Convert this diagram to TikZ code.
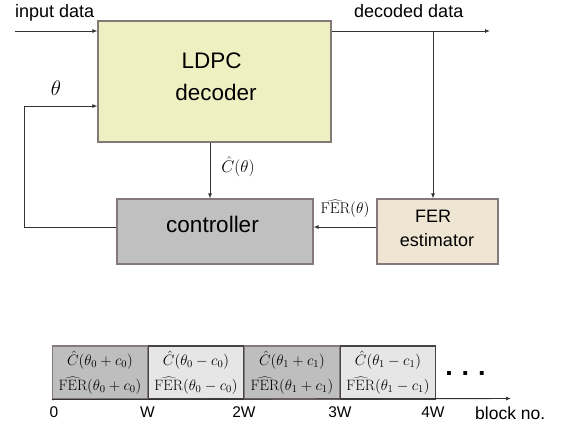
\RequirePackage{fix-cm}
\documentclass[tikz,border=0pt]{standalone}
\usepackage{fontspec}
\setsansfont{Liberation Sans}
\usetikzlibrary{arrows.meta}
\definecolor{ldpcfill}{HTML}{EEF0C2}
\definecolor{ctrlfill}{HTML}{C0C0C0}
\definecolor{ferfill}{HTML}{EFE5D3}
\definecolor{bordc}{HTML}{857878}
\definecolor{linec}{HTML}{333333}
\definecolor{darkfill}{HTML}{BEBEBE}
\definecolor{lightfill}{HTML}{E6E6E6}
\definecolor{darkbord}{HTML}{444444}
\begin{document}
\begin{tikzpicture}[x=1pt,y=-1pt,
  blk/.style={draw=bordc, line width=1.2pt, inner sep=0pt},
  conn/.style={draw=linec, line width=0.9pt},
  arr/.style={conn, -{Latex[length=5pt,width=4pt]}},
  big/.style={font=\sffamily\fontsize{22.5}{27}\selectfont, inner sep=0pt},
  mid/.style={font=\sffamily\fontsize{18}{21}\selectfont, inner sep=0pt},
  tick/.style={font=\sffamily\fontsize{15.5}{18}\selectfont, inner sep=0pt},
  mth/.style={font=\fontsize{15.5}{18}\selectfont, inner sep=0pt},
  slot/.style={draw, line width=1.1pt, inner sep=0pt, minimum width=95pt, minimum height=53pt,
    align=center, font=\fontsize{15}{25}\selectfont}]
\useasboundingbox (0,0) rectangle (563,426);

% main blocks
\node[blk, fill=ldpcfill, minimum width=233pt, minimum height=121pt] (ldpc) at (214.5,81.5) {};
\node[big, anchor=base] (ldpct1) at (211.7,68.3) {LDPC};
\node[big, anchor=base] (ldpct2) at (216,100) {decoder};

\node[blk, fill=ctrlfill, minimum width=196pt, minimum height=65pt] (ctrl) at (215,231.5) {};
\node[big, anchor=base] (ctrlt) at (212.5,232) {controller};

\node[blk, fill=ferfill, minimum width=121pt, minimum height=65pt] (fer) at (437.5,231.5) {};
\node[mid, anchor=base] (fert1) at (433,222) {FER};
\node[mid, anchor=base] (fert2) at (437,246.7) {estimator};

% outside labels
\node[mid, anchor=base west] (inlab) at (15,17) {input data};
\node[mid, anchor=base west] (outlab) at (354,17) {decoded data};
\node[font=\fontsize{21}{24}\selectfont, inner sep=0pt] (thlab) at (56,88.5) {$\theta$};
\node[font=\fontsize{17}{20}\selectfont, inner sep=0pt] (clab) at (238,166.7) {$\hat{C}(\theta)$};
\node[mth] (flab) at (345,209) {$\widehat{\mathrm{FER}}(\theta)$};

% coordinates
\coordinate (inp) at (15,31);
\coordinate (outp) at (490,31);
\coordinate (br) at (433,31);
\coordinate (cx) at (210,0);
\coordinate (fy) at (0,227);
\coordinate (fbl) at (24,227);
\coordinate (fbt) at (24,106);

% connectors
\draw[arr] (inp) -- (inp -| ldpc.west);
\draw[arr] (ldpc.east |- outp) -- (outp);
\draw[arr] (br) -- (br |- fer.north);
\draw[arr] (cx |- ldpc.south) -- (cx |- ctrl.north);
\draw[arr] (fer.west |- fy) -- (ctrl.east |- fy);
\draw[arr] (ctrl.west |- fy) -- (fbl) -- (fbt) -- (fbt -| ldpc.west);

% bottom timeline
\node[slot, draw=bordc, fill=darkfill] (b1) at (100,372.5)
  {$\hat{C}(\theta_0+c_0)$\\$\widehat{\mathrm{FER}}(\theta_0+c_0)$};
\node[slot, draw=darkbord, fill=lightfill] (b2) at (196,372.5)
  {$\hat{C}(\theta_0-c_0)$\\$\widehat{\mathrm{FER}}(\theta_0-c_0)$};
\node[slot, draw=bordc, fill=darkfill] (b3) at (292,372.5)
  {$\hat{C}(\theta_1+c_1)$\\$\widehat{\mathrm{FER}}(\theta_1+c_1)$};
\node[slot, draw=darkbord, fill=lightfill] (b4) at (388,372.5)
  {$\hat{C}(\theta_1-c_1)$\\$\widehat{\mathrm{FER}}(\theta_1-c_1)$};

\coordinate (axe) at (511,398.5);
\draw[arr] (b1.south west) -- (axe);

\node[font=\sffamily\bfseries\fontsize{27}{30}\selectfont, inner sep=0pt, anchor=base] (dots) at (465.5,375) {.\,\,.\,\,.};

\node[tick, anchor=base] (t0) at (54,417) {0};
\node[tick, anchor=base] (t1) at (147.5,417) {W};
\node[tick, anchor=base] (t2) at (244,417) {2W};
\node[tick, anchor=base] (t3) at (340,417) {3W};
\node[tick, anchor=base] (t4) at (433,417) {4W};
\node[font=\sffamily\fontsize{17.5}{20}\selectfont, inner sep=0pt, anchor=base west] (blk) at (475,419) {block no.};
\end{tikzpicture}
\end{document}
